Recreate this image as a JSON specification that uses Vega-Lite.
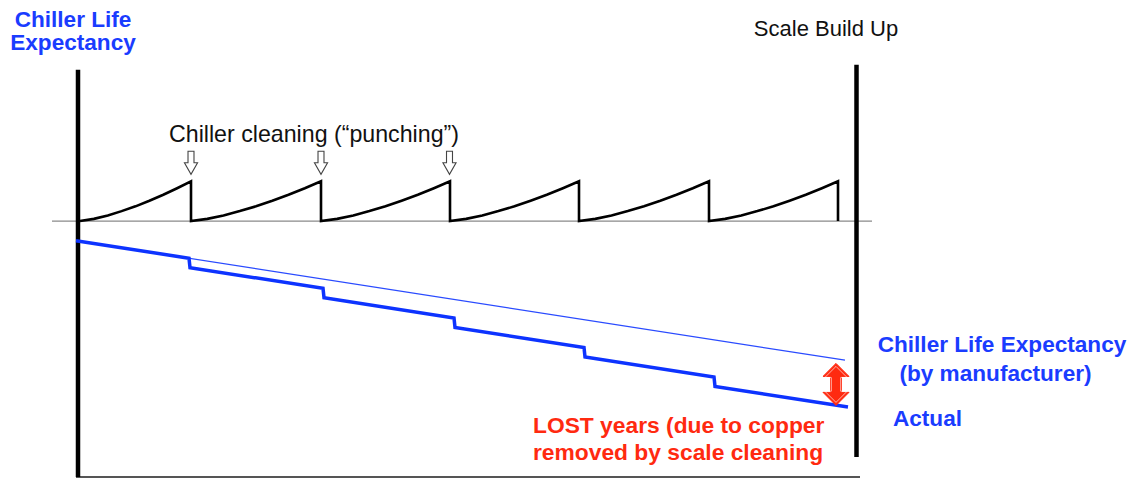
{
  "$schema": "https://vega.github.io/schema/vega-lite/v6.json",
  "width": 1132,
  "height": 480,
  "autosize": {"type": "fit", "contains": "padding"},
  "padding": 0,
  "background": "white",
  "config": {"view": {"stroke": null}},
  "encoding": {
    "x": {"field": "x", "type": "quantitative", "scale": {"domain": [0, 1132], "nice": false, "zero": false}, "axis": null},
    "y": {"field": "y", "type": "quantitative", "scale": {"domain": [0, 480], "nice": false, "zero": false, "reverse": true}, "axis": null}
  },
  "layer": [
    {
      "data": {"values": [{"x": 52, "x2": 872, "y": 222, "y2": 222}]},
      "mark": {"type": "rule", "color": "#8a8a8a", "strokeWidth": 1.3},
      "encoding": {"x2": {"field": "x2"}, "y2": {"field": "y2"}}
    },
    {
      "data": {"values": [{"x": 76, "x2": 860, "y": 479, "y2": 479}]},
      "mark": {"type": "rule", "color": "#555555", "strokeWidth": 2.2},
      "encoding": {"x2": {"field": "x2"}, "y2": {"field": "y2"}}
    },
    {
      "data": {"values": [
        {"x": 78, "x2": 78, "y": 70, "y2": 479},
        {"x": 856.5, "x2": 856.5, "y": 65, "y2": 459}
      ]},
      "mark": {"type": "rule", "color": "#000000", "strokeWidth": 4.5},
      "encoding": {"x2": {"field": "x2"}, "y2": {"field": "y2"}}
    },
    {
      "data": {"values": [
        {"i": 0, "x": 80, "y": 222}, {"i": 1, "x": 93.9, "y": 219.8}, {"i": 2, "x": 107.8, "y": 216.3}, {"i": 3, "x": 121.6, "y": 212}, {"i": 4, "x": 135.5, "y": 207.2}, {"i": 5, "x": 149.4, "y": 201.6}, {"i": 6, "x": 163.3, "y": 195.6}, {"i": 7, "x": 177.1, "y": 189}, {"i": 8, "x": 191, "y": 182},
        {"i": 9, "x": 191, "y": 222}, {"i": 10, "x": 207.3, "y": 219.8}, {"i": 11, "x": 223.5, "y": 216.3}, {"i": 12, "x": 239.8, "y": 212}, {"i": 13, "x": 256, "y": 207.2}, {"i": 14, "x": 272.3, "y": 201.6}, {"i": 15, "x": 288.5, "y": 195.6}, {"i": 16, "x": 304.8, "y": 189}, {"i": 17, "x": 321, "y": 182},
        {"i": 18, "x": 321, "y": 222}, {"i": 19, "x": 337.1, "y": 219.8}, {"i": 20, "x": 353.3, "y": 216.3}, {"i": 21, "x": 369.4, "y": 212}, {"i": 22, "x": 385.5, "y": 207.2}, {"i": 23, "x": 401.6, "y": 201.6}, {"i": 24, "x": 417.8, "y": 195.6}, {"i": 25, "x": 433.9, "y": 189}, {"i": 26, "x": 450, "y": 182},
        {"i": 27, "x": 450, "y": 222}, {"i": 28, "x": 466.1, "y": 219.8}, {"i": 29, "x": 482.3, "y": 216.3}, {"i": 30, "x": 498.4, "y": 212}, {"i": 31, "x": 514.5, "y": 207.2}, {"i": 32, "x": 530.6, "y": 201.6}, {"i": 33, "x": 546.8, "y": 195.6}, {"i": 34, "x": 562.9, "y": 189}, {"i": 35, "x": 579, "y": 182},
        {"i": 36, "x": 579, "y": 222}, {"i": 37, "x": 595.3, "y": 219.8}, {"i": 38, "x": 611.5, "y": 216.3}, {"i": 39, "x": 627.8, "y": 212}, {"i": 40, "x": 644, "y": 207.2}, {"i": 41, "x": 660.3, "y": 201.6}, {"i": 42, "x": 676.5, "y": 195.6}, {"i": 43, "x": 692.8, "y": 189}, {"i": 44, "x": 709, "y": 182},
        {"i": 45, "x": 709, "y": 222}, {"i": 46, "x": 725.1, "y": 219.8}, {"i": 47, "x": 741.3, "y": 216.3}, {"i": 48, "x": 757.4, "y": 212}, {"i": 49, "x": 773.5, "y": 207.2}, {"i": 50, "x": 789.6, "y": 201.6}, {"i": 51, "x": 805.8, "y": 195.6}, {"i": 52, "x": 821.9, "y": 189}, {"i": 53, "x": 838, "y": 182},
        {"i": 54, "x": 838, "y": 222}
      ]},
      "mark": {"type": "line", "color": "#000000", "strokeWidth": 2.6, "strokeJoin": "miter"},
      "encoding": {"order": {"field": "i", "type": "quantitative"}}
    },
    {
      "data": {"values": [{"i": 0, "x": 76, "y": 241.7}, {"i": 1, "x": 845, "y": 361.7}]},
      "mark": {"type": "line", "color": "#2a4bff", "strokeWidth": 1.2},
      "encoding": {"order": {"field": "i", "type": "quantitative"}}
    },
    {
      "data": {"values": [
        {"i": 0, "x": 76, "y": 241.7},
        {"i": 1, "x": 189, "y": 259.3},
        {"i": 2, "x": 190, "y": 268.8},
        {"i": 3, "x": 323, "y": 289.5},
        {"i": 4, "x": 324, "y": 299},
        {"i": 5, "x": 454, "y": 319.3},
        {"i": 6, "x": 455, "y": 328.8},
        {"i": 7, "x": 584, "y": 348.9},
        {"i": 8, "x": 585, "y": 358.4},
        {"i": 9, "x": 714, "y": 378.5},
        {"i": 10, "x": 715, "y": 388},
        {"i": 11, "x": 848, "y": 408.7}
      ]},
      "mark": {"type": "line", "color": "#0d33ff", "strokeWidth": 3.5},
      "encoding": {"order": {"field": "i", "type": "quantitative"}}
    },
    {
      "data": {"values": [{"x": 191, "y": 163.5}, {"x": 321, "y": 163.5}, {"x": 449.5, "y": 163.5}]},
      "mark": {"type": "point", "shape": "M-0.26,-1 L0.26,-1 L0.26,0 L0.57,0 L0,1 L-0.57,0 L-0.26,0 Z", "size": 529, "filled": true, "fill": "#ffffff", "stroke": "#444444", "strokeWidth": 1.1, "opacity": 1}
    },
    {
      "data": {"values": [{"x": 836, "y": 386}]},
      "mark": {"type": "point", "shape": "M0,-1 L0.62,-0.38 L0.26,-0.38 L0.26,0.38 L0.62,0.38 L0,1 L-0.62,0.38 L-0.26,0.38 L-0.26,-0.38 L-0.62,-0.38 Z", "size": 1764, "filled": true, "fill": "#ff2a10", "stroke": "#ff2a10", "strokeWidth": 1, "opacity": 1}
    },
    {
      "data": {"values": [{"x": 836, "y": 386}]},
      "mark": {"type": "point", "shape": "M0,-1 L0.62,-0.38 L0.26,-0.38 L0.26,0.38 L0.62,0.38 L0,1 L-0.62,0.38 L-0.26,0.38 L-0.26,-0.38 L-0.62,-0.38 Z", "size": 1296, "filled": false, "stroke": "#ffffff", "strokeWidth": 0.8, "opacity": 0.8}
    },
    {
      "data": {"values": [
        {"x": 73, "y": 26.7, "text": "Chiller Life"},
        {"x": 73, "y": 50, "text": "Expectancy"},
        {"x": 1002, "y": 353, "text": "Chiller Life Expectancy"},
        {"x": 995.5, "y": 383, "text": "(by manufacturer)"},
        {"x": 927.5, "y": 428, "text": "Actual"}
      ]},
      "mark": {"type": "text", "font": "Liberation Sans", "fontSize": 22.6, "fontWeight": "bold", "color": "#1a3cff", "align": "center", "baseline": "alphabetic"},
      "encoding": {"text": {"field": "text"}}
    },
    {
      "data": {"values": [
        {"x": 826, "y": 36, "text": "Scale Build Up"}
      ]},
      "mark": {"type": "text", "font": "Liberation Sans", "fontSize": 22, "color": "#111111", "align": "center", "baseline": "alphabetic"},
      "encoding": {"text": {"field": "text"}}
    },
    {
      "data": {"values": [
        {"x": 314, "y": 142.5, "text": "Chiller cleaning (“punching”)"}
      ]},
      "mark": {"type": "text", "font": "Liberation Sans", "fontSize": 23.2, "color": "#111111", "align": "center", "baseline": "alphabetic"},
      "encoding": {"text": {"field": "text"}}
    },
    {
      "data": {"values": [
        {"x": 533, "y": 435, "text": "LOST years (due to copper"},
        {"x": 533, "y": 461.7, "text": "removed by scale cleaning"}
      ]},
      "mark": {"type": "text", "font": "Liberation Sans", "fontSize": 22.8, "fontWeight": "bold", "color": "#ff2a10", "align": "left", "baseline": "alphabetic"},
      "encoding": {"text": {"field": "text"}}
    }
  ]
}
